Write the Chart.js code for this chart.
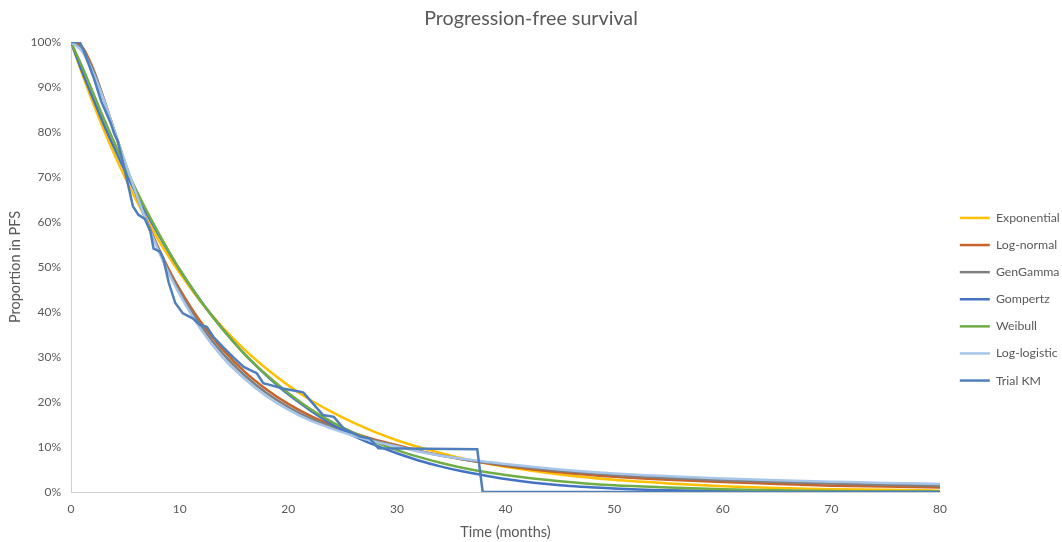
<!DOCTYPE html>
<html>
<head>
<meta charset="utf-8">
<script src="https://cdn.jsdelivr.net/npm/chart.js@4/dist/chart.umd.min.js"></script>
<style>
  html, body { margin: 0; padding: 0; background: #ffffff; }
  #wrap { width: 1062px; height: 542px; }
</style>
</head>
<body>
<div id="wrap"><canvas id="c" width="1062" height="542"></canvas></div>
<script>
// ---- Data ----
const months = [0,1,2,3,4,5,6,7,8,9,10,12,14,16,18,20,22,24,26,28,30,32,34,36,38,40,45,50,55,60,65,70,75,80];

const exponential = [1,0.931,0.866,0.806,0.750,0.698,0.649,0.604,0.562,0.523,0.487,0.421,0.365,0.316,0.274,0.237,0.205,0.178,0.154,0.133,0.115,0.100,0.087,0.075,0.065,0.056,0.039,0.027,0.019,0.013,0.009,0.006,0.005,0.003];
const logNormal   = [1,0.990,0.943,0.875,0.801,0.729,0.662,0.600,0.545,0.495,0.451,0.376,0.316,0.267,0.228,0.196,0.170,0.149,0.131,0.116,0.104,0.092,0.082,0.073,0.065,0.058,0.044,0.034,0.027,0.022,0.018,0.014,0.012,0.010];
const genGamma    = [1,0.985,0.940,0.875,0.802,0.730,0.662,0.599,0.542,0.490,0.445,0.368,0.307,0.259,0.220,0.189,0.164,0.145,0.128,0.114,0.102,0.091,0.081,0.073,0.066,0.060,0.047,0.038,0.031,0.026,0.022,0.019,0.016,0.014];
const gompertz    = [1,0.936,0.876,0.818,0.764,0.712,0.663,0.617,0.574,0.533,0.494,0.423,0.361,0.306,0.259,0.217,0.182,0.151,0.125,0.104,0.086,0.070,0.057,0.046,0.037,0.029,0.015,0.008,0.004,0.002,0.001,0,0,0];
const weibull     = [1,0.947,0.889,0.831,0.776,0.722,0.671,0.623,0.578,0.535,0.495,0.423,0.360,0.306,0.260,0.220,0.185,0.156,0.132,0.111,0.093,0.078,0.065,0.054,0.045,0.038,0.024,0.015,0.010,0.006,0.004,0.002,0.001,0.001];
const logLogistic = [1,0.980,0.934,0.873,0.803,0.732,0.663,0.598,0.539,0.486,0.439,0.360,0.298,0.251,0.213,0.183,0.159,0.141,0.125,0.112,0.101,0.090,0.081,0.074,0.068,0.062,0.050,0.041,0.035,0.030,0.026,0.023,0.020,0.018];

const kmTime = [0,0.8,1.1,2.1,2.8,3.6,4.0,4.3,5.0,5.7,6.2,6.8,7.3,7.6,8.2,8.5,9.0,9.6,10.3,11.2,11.9,12.5,13.1,14.0,15.0,15.9,16.5,17.1,17.7,18.3,19.5,21.1,21.4,23.2,24.2,25.1,26.6,27.5,28.3,37.4,37.9,80];
const kmSurv = [1,1,0.985,0.92,0.867,0.823,0.795,0.78,0.71,0.635,0.616,0.607,0.58,0.541,0.534,0.519,0.465,0.42,0.397,0.386,0.371,0.367,0.345,0.322,0.298,0.278,0.271,0.264,0.242,0.238,0.23,0.223,0.221,0.171,0.167,0.141,0.123,0.119,0.097,0.095,0,0];

const xTicks = [0,10,20,30,40,50,60,70,80];
const yTicks = [0,0.1,0.2,0.3,0.4,0.5,0.6,0.7,0.8,0.9,1.0];

const seriesNames  = ['Exponential','Log-normal','GenGamma','Gompertz','Weibull','Log-logistic','Trial KM'];
const seriesColors = ['#FFC000','#C8642A','#7F7F7F','#4472C4','#70AD47','#A7C4E9','#4E7FBA'];

// ---- Build chart ----
const FONT = 'Lato, "Open Sans", sans-serif';
const TXT = '#595959';
const AXIS = '#D0D0D0';

function pts(xs, ys) { return xs.map((x, i) => ({ x: x, y: ys[i] })); }

const modelSeries = [exponential, logNormal, genGamma, gompertz, weibull, logLogistic];
const datasets = modelSeries.map((arr, i) => ({
  label: seriesNames[i],
  data: pts(months, arr),
  borderColor: seriesColors[i],
  backgroundColor: seriesColors[i],
  borderWidth: 2.5,
  pointRadius: 0,
  cubicInterpolationMode: 'monotone',
  fill: false,
  order: 7 - i
}));
datasets.push({
  label: seriesNames[6],
  data: pts(kmTime, kmSurv),
  borderColor: seriesColors[6],
  backgroundColor: seriesColors[6],
  borderWidth: 2.5,
  pointRadius: 0,
  tension: 0,
  fill: false,
  order: 1
});

const legendPlacer = {
  id: 'legendPlacer',
  afterLayout(chart) {
    const lg = chart.legend;
    if (!lg) return;
    const w = lg.width;
    lg.left = 945; lg.right = 945 + w;
    lg.top = 197; lg.bottom = 542;
  }
};

new Chart(document.getElementById('c'), {
  type: 'line',
  data: { datasets },
  plugins: [legendPlacer],
  options: {
    responsive: false,
    animation: false,
    layout: { padding: 0 },
    plugins: {
      title: {
        display: true,
        text: 'Progression-free survival',
        color: TXT,
        font: { family: FONT, size: 19.7, weight: 'normal' },
        padding: { top: 7, bottom: 11.4 }
      },
      legend: {
        position: 'right',
        align: 'start',
        maxWidth: 122,
        labels: {
          usePointStyle: true,
          pointStyle: 'line',
          pointStyleWidth: 30,
          boxWidth: 30,
          padding: 14.8,
          textAlign: 'left',
          color: TXT,
          font: { family: FONT, size: 12.3 },
          sort: (a, b) => a.datasetIndex - b.datasetIndex
        }
      },
      tooltip: { enabled: false }
    },
    scales: {
      x: {
        type: 'linear',
        min: 0, max: 80,
        afterBuildTicks: s => { s.ticks = xTicks.map(v => ({ value: v })); },
        ticks: { color: TXT, font: { family: FONT, size: 12 }, padding: 10, maxRotation: 0 },
        grid: { display: true, color: 'rgba(0,0,0,0)', drawTicks: false },
        border: { display: true, color: AXIS, width: 1 },
        title: { display: true, text: 'Time (months)', color: TXT, font: { family: FONT, size: 14.5 }, padding: { top: 0, bottom: 0.5 } },
        afterFit: s => { s.height = 50; }
      },
      y: {
        type: 'linear',
        min: 0, max: 1,
        afterBuildTicks: s => { s.ticks = yTicks.map(v => ({ value: v })); },
        ticks: { color: TXT, font: { family: FONT, size: 12 }, padding: 10, callback: v => Math.round(v * 100) + '%' },
        grid: { display: true, color: 'rgba(0,0,0,0)', drawTicks: false },
        border: { display: true, color: AXIS, width: 1 },
        title: { display: true, text: 'Proportion in PFS', color: TXT, font: { family: FONT, size: 14.5 }, padding: { top: 6.3, bottom: 0 } },
        afterFit: s => { s.width = 71; }
      }
    }
  }
});
</script>
</body>
</html>
